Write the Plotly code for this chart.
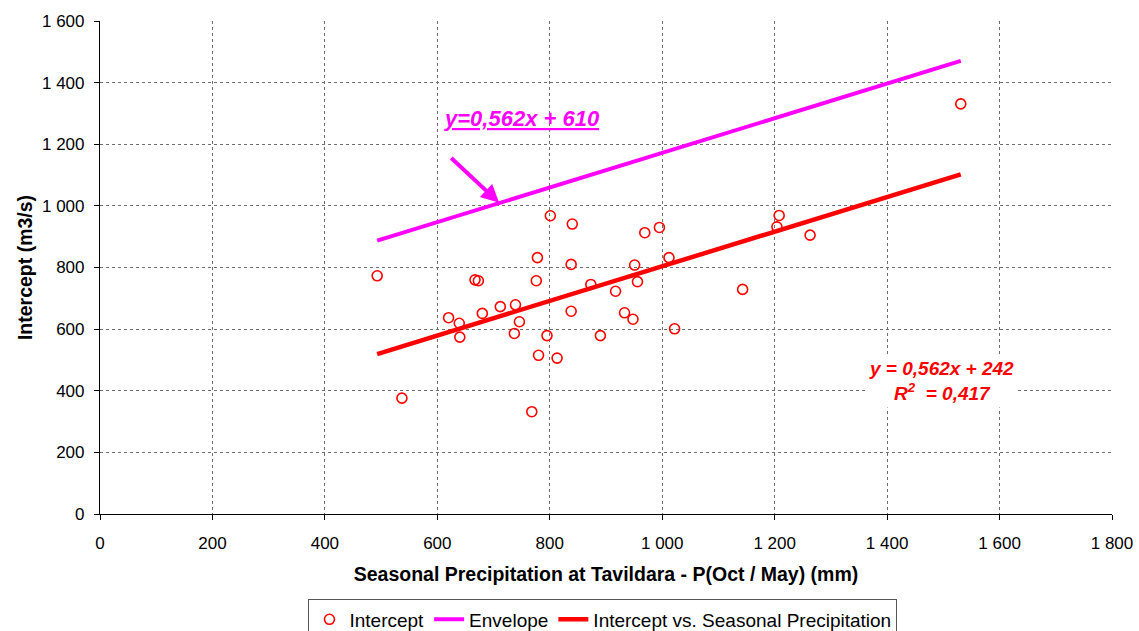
import plotly.graph_objects as go

# Seasonal precipitation P(Oct/May) at Tavildara (mm) and the fitted intercept (m3/s)
precip_mm = [493, 537, 620, 639, 640, 667, 673, 680, 712, 739, 737, 746, 778, 776,
             780, 768, 795, 813, 801, 840, 838, 838, 873, 890, 917, 969, 995, 951,
             956, 1012, 933, 948, 1022, 1143, 1208, 1204, 1263, 1531]
intercept_m3s = [773, 376, 637, 619, 574, 760, 757, 651, 673, 679, 586, 624, 832, 757,
                 515, 332, 579, 506, 968, 941, 810, 658, 745, 579, 723, 913, 930, 808,
                 754, 832, 653, 632, 601, 729, 969, 932, 905, 1331]

# Regression and envelope: y = a*x + b
slope = 0.562
fit_offset = 242
envelope_offset = 610
r_squared = "0,417"

x_line = [min(precip_mm), max(precip_mm)]
fit_y = [slope * x + fit_offset for x in x_line]
env_y = [slope * x + envelope_offset for x in x_line]

x_ticks = list(range(0, 1801, 200))
y_ticks = list(range(0, 1601, 200))

FONT = "Liberation Sans, Arial, sans-serif"
slope_txt = f"{slope}".replace(".", ",")

fig = go.Figure()
fig.add_trace(go.Scatter(
    x=precip_mm, y=intercept_m3s, mode="markers", name="Intercept",
    marker=dict(symbol="circle-open", size=10, color="#ff0000",
                line=dict(width=1.6, color="#ff0000")),
))
fig.add_trace(go.Scatter(
    x=x_line, y=env_y, mode="lines", name="Envelope",
    line=dict(color="#ff00ff", width=4),
))
fig.add_trace(go.Scatter(
    x=x_line, y=fit_y, mode="lines", name="Intercept vs. Seasonal Precipitation",
    line=dict(color="#ff0000", width=4.5),
))

# Envelope equation and pointer arrow
fig.add_annotation(
    x=750, y=1282, xref="x", yref="y", showarrow=False,
    text=f"<b><i><u>y={slope_txt}x + {envelope_offset}</u></i></b>",
    font=dict(family=FONT, size=22, color="#ff00ff"),
)
fig.add_annotation(
    x=710, y=1010, ax=622, ay=1160, xref="x", yref="y", axref="x", ayref="y",
    showarrow=True, arrowhead=2, arrowsize=0.9, arrowwidth=4, arrowcolor="#ff00ff",
    text="",
)
# Regression equation
fig.add_annotation(
    x=1496, y=432, xref="x", yref="y", showarrow=False,
    text=f"<b><i>y = {slope_txt}x + {fit_offset}<br>R<sup>2</sup>  = {r_squared}</i></b>",
    font=dict(family=FONT, size=19, color="#ff0000"),
    bgcolor="white", borderpad=3,
)

axis_common = dict(
    showline=True, linecolor="black", linewidth=1.2,
    ticks="outside", ticklen=5, tickcolor="black",
    showgrid=True, gridcolor="#6e6e6e", gridwidth=1, griddash="dot",
    zeroline=False, tickformat=",d", automargin=False,
    tickfont=dict(family=FONT, size=17, color="black"),
)

fig.update_layout(
    width=1139, height=631,
    margin=dict(l=100, r=27, t=21, b=117, autoexpand=False),
    paper_bgcolor="white", plot_bgcolor="white",
    separators=", ",
    font=dict(family=FONT, size=17, color="black"),
    xaxis=dict(axis_common, range=[0, 1800], tickvals=x_ticks, ticklabelstandoff=8,
               title=dict(text="<b>Seasonal Precipitation at Tavildara - P(Oct / May) (mm)</b>",
                          font=dict(family=FONT, size=19.5), standoff=15)),
    yaxis=dict(axis_common, range=[0, 1600], tickvals=y_ticks, ticklabelstandoff=6,
               title=dict(text="<b>Intercept (m3/s)</b>",
                          font=dict(family=FONT, size=19.5), standoff=4)),
    legend=dict(orientation="h", x=0.497, xanchor="center",
                yref="container", y=0.05, yanchor="top",
                bordercolor="#555555", borderwidth=1, bgcolor="white",
                font=dict(family=FONT, size=19), itemwidth=30, tracegroupgap=0),
    showlegend=True,
)

fig.write_html("out.html")
